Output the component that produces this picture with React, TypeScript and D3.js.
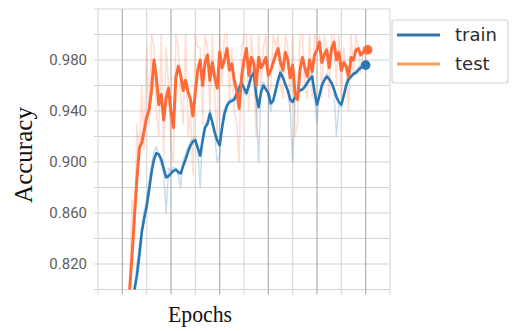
import React from 'react';
import * as d3 from 'd3';

// epochs: train starts at epoch 5, test at epoch 3, one value per epoch up to 100
const trainStart = 5;
const testStart = 3;

const trainSmooth = [
  0.800, 0.811, 0.827, 0.845, 0.856, 0.865, 0.878, 0.892, 0.902, 0.907,
  0.906, 0.902, 0.895, 0.888, 0.889, 0.891, 0.893, 0.894, 0.892, 0.891,
  0.897, 0.902, 0.908, 0.913, 0.916, 0.917, 0.911, 0.905, 0.917, 0.927,
  0.930, 0.938, 0.931, 0.923, 0.917, 0.913, 0.927, 0.938, 0.944, 0.947,
  0.948, 0.949, 0.953, 0.958, 0.962, 0.958, 0.954, 0.960, 0.967, 0.970,
  0.953, 0.943, 0.955, 0.960, 0.957, 0.954, 0.946, 0.948, 0.956, 0.964,
  0.970, 0.966, 0.961, 0.956, 0.949, 0.947, 0.951, 0.954, 0.956, 0.957,
  0.959, 0.962, 0.965, 0.967, 0.955, 0.945, 0.952, 0.960, 0.964, 0.967,
  0.965, 0.962, 0.957, 0.951, 0.947, 0.945, 0.952, 0.960, 0.965, 0.967,
  0.969, 0.970, 0.972, 0.974, 0.975, 0.976
];

const trainRaw = [
  0.800, 0.820, 0.835, 0.850, 0.862, 0.872, 0.885, 0.898, 0.908, 0.912,
  0.905, 0.898, 0.890, 0.860, 0.895, 0.893, 0.896, 0.895, 0.890, 0.880,
  0.902, 0.906, 0.912, 0.916, 0.918, 0.920, 0.908, 0.880, 0.922, 0.930,
  0.932, 0.941, 0.928, 0.920, 0.900, 0.905, 0.932, 0.942, 0.946, 0.949,
  0.950, 0.950, 0.956, 0.960, 0.965, 0.955, 0.952, 0.963, 0.970, 0.973,
  0.945, 0.900, 0.960, 0.963, 0.958, 0.952, 0.940, 0.950, 0.958, 0.967,
  0.972, 0.967, 0.960, 0.955, 0.940, 0.900, 0.953, 0.956, 0.957, 0.958,
  0.960, 0.964, 0.967, 0.969, 0.950, 0.930, 0.955, 0.962, 0.966, 0.969,
  0.966, 0.962, 0.955, 0.920, 0.945, 0.943, 0.955, 0.963, 0.967, 0.969,
  0.970, 0.972, 0.974, 0.976, 0.977, 0.978
];

const testSmooth = [
  0.800, 0.827, 0.858, 0.887, 0.911, 0.915, 0.925, 0.935, 0.941, 0.956,
  0.980, 0.966, 0.945, 0.953, 0.933, 0.950, 0.958, 0.939, 0.927, 0.966,
  0.975, 0.968, 0.956, 0.964, 0.955, 0.949, 0.936, 0.955, 0.972, 0.980,
  0.960, 0.978, 0.984, 0.964, 0.978, 0.966, 0.958, 0.986, 0.974, 0.980,
  0.989, 0.972, 0.977, 0.964, 0.956, 0.942, 0.966, 0.980, 0.989, 0.968,
  0.982, 0.978, 0.960, 0.982, 0.974, 0.977, 0.982, 0.968, 0.972, 0.978,
  0.984, 0.989, 0.978, 0.972, 0.986, 0.980, 0.966, 0.976, 0.953, 0.949,
  0.972, 0.982, 0.974, 0.967, 0.980, 0.971, 0.984, 0.988, 0.994, 0.978,
  0.984, 0.988, 0.974, 0.989, 0.994, 0.980, 0.986, 0.972, 0.978, 0.975,
  0.967, 0.982, 0.980, 0.988, 0.989, 0.984, 0.986, 0.988
];

const testRaw = [
  0.800, 0.870, 0.840, 0.930, 0.900, 0.960, 0.910, 0.990, 0.930, 1.000,
  0.990, 0.940, 0.920, 1.000, 0.900, 0.990, 0.960, 0.910, 0.900, 1.000,
  0.990, 0.950, 0.930, 1.000, 0.920, 0.940, 0.890, 1.000, 0.990, 0.990,
  0.930, 1.000, 0.990, 0.940, 1.000, 0.950, 0.920, 1.000, 0.960, 1.000,
  1.000, 0.950, 0.990, 0.940, 0.930, 0.900, 0.990, 1.000, 1.000, 0.940,
  1.000, 0.970, 0.920, 1.000, 0.960, 0.990, 1.000, 0.950, 0.960, 1.000,
  0.990, 1.000, 0.960, 0.950, 1.000, 0.990, 0.940, 1.000, 0.920, 0.930,
  1.000, 1.000, 0.960, 0.950, 1.000, 0.950, 1.000, 0.990, 1.000, 0.950,
  1.000, 0.990, 0.950, 1.000, 1.000, 0.960, 1.000, 0.950, 0.990, 0.970,
  0.940, 1.000, 0.970, 1.000, 0.990, 0.970, 0.990, 0.990
];

const xGrid = [-10, 0, 10, 20, 30, 40, 50, 60, 70, 80, 90, 100, 110];
const xMajor = [0, 20, 40, 60, 80, 100];
const yGrid = [0.80, 0.82, 0.84, 0.86, 0.88, 0.90, 0.92, 0.94, 0.96, 0.98, 1.00, 1.02];
const yLabels = [0.82, 0.86, 0.90, 0.94, 0.98];

const legendItems = [
  { label: 'train', color: '#3577ab' },
  { label: 'test', color: '#f7a15c' }
];

const BLUE = '#2a78b3';
const ORANGE = '#ff6a36';

const App = () => {
  const width = 513;
  const height = 331;

  const x = d3.scaleLinear().domain([-10, 110]).range([98, 390]);
  const y = d3.scaleLinear().domain([0.8, 1.02]).range([289.5, 9]);

  const lineFrom = (start: number) =>
    d3.line<number>()
      .x((d, i) => x(start + i))
      .y(d => y(d));

  const trainLine = lineFrom(trainStart);
  const testLine = lineFrom(testStart);

  const lastTrain = trainSmooth[trainSmooth.length - 1];
  const lastTest = testSmooth[testSmooth.length - 1];

  const [x0, x1] = x.range();
  const [yb, yt] = y.range();

  return (
    <svg width={width} height={height} style={{ position: 'absolute', left: 0, top: 0, background: '#fff' }}>
      <defs>
        <clipPath id="plot">
          <rect x={x0} y={yt} width={x1 - x0} height={yb - yt + 1} />
        </clipPath>
      </defs>

      {/* grid */}
      {yGrid.map(v => (
        <line key={'h' + v} x1={x0 - 4} x2={x1} y1={y(v)} y2={y(v)} stroke="#d3d3d3" strokeWidth={1.2} />
      ))}
      {xGrid.map(v => (
        <line key={'v' + v} x1={x(v)} x2={x(v)} y1={yt} y2={yb + 5}
          stroke={xMajor.includes(v) ? '#b0b0b0' : '#dadada'} strokeWidth={1.2} />
      ))}

      {/* y tick labels */}
      {yLabels.map(v => (
        <text key={'l' + v} x={87} y={y(v)} dy="0.36em" textAnchor="end"
          fontFamily="Roboto, sans-serif" fontSize={15} fill="#5e5e5e">
          {v.toFixed(3)}
        </text>
      ))}

      <g clipPath="url(#plot)" fill="none" strokeLinejoin="round">
        <path d={testLine(testRaw) || ''} stroke={ORANGE} strokeOpacity={0.22} strokeWidth={1.6} />
        <path d={trainLine(trainRaw) || ''} stroke={BLUE} strokeOpacity={0.25} strokeWidth={1.5} />
        <path d={trainLine(trainSmooth) || ''} stroke={BLUE} strokeWidth={2.6} />
        <path d={testLine(testSmooth) || ''} stroke={ORANGE} strokeWidth={3} />
      </g>
      <circle cx={x(trainStart + trainSmooth.length - 1)} cy={y(lastTrain)} r={4.8} fill={BLUE} />
      <circle cx={x(testStart + testSmooth.length - 1) + 2} cy={y(lastTest)} r={4.8} fill={ORANGE} />

      {/* axis titles */}
      <text x={200} y={322} textAnchor="middle" fontFamily="'Liberation Serif', serif"
        fontSize={24} textLength={64} lengthAdjust="spacingAndGlyphs" fill="#111">Epochs</text>
      <text transform="translate(32,155) rotate(-90)" textAnchor="middle"
        fontFamily="'Liberation Serif', serif" fontSize={25} fill="#111">Accuracy</text>

      {/* legend */}
      <rect x={392} y={20} width={116} height={63} rx={3} fill="#fff" stroke="#d4d4d4" strokeWidth={1.2} />
      {legendItems.map((d, i) => (
        <g key={d.label} transform={`translate(0, ${35 + i * 29})`}>
          <line x1={397} x2={440} y1={0} y2={0} stroke={d.color} strokeWidth={3} />
          <text x={455} y={0} dy="0.35em" fontFamily="'DejaVu Sans', sans-serif" fontSize={18} fill="#2a2a2a">{d.label}</text>
        </g>
      ))}
    </svg>
  );
};

export default App;
